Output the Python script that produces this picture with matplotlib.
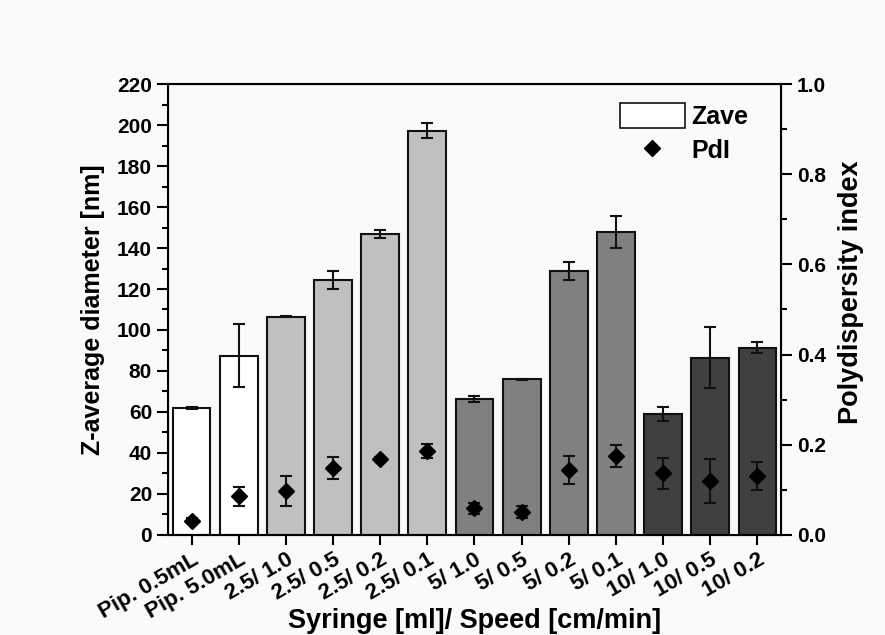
import matplotlib.pyplot as plt
import numpy as np
from matplotlib.patches import Patch
from matplotlib.lines import Line2D
from matplotlib.ticker import MultipleLocator

plt.rcParams['font.family'] = ['Liberation Sans', 'DejaVu Sans']
plt.rcParams['font.weight'] = 'bold'

# données
labels = ['Pip. 0.5mL', 'Pip. 5.0mL', '2.5/ 1.0', '2.5/ 0.5', '2.5/ 0.2', '2.5/ 0.1',
          '5/ 1.0', '5/ 0.5', '5/ 0.2', '5/ 0.1', '10/ 1.0', '10/ 0.5', '10/ 0.2']
zave = [61.8, 87.5, 106.5, 124.4, 146.8, 197.2, 66.3, 75.9, 128.7, 147.8, 59.0, 86.5, 91.4]
zave_err = [0.4, 15.4, 0.4, 4.5, 2.0, 3.6, 1.4, 0.4, 4.5, 8.0, 3.2, 15.0, 2.6]
pdi = [0.032, 0.086, 0.097, 0.149, 0.169, 0.186, 0.059, 0.051, 0.145, 0.175, 0.137, 0.120, 0.131]
pdi_err = [0.005, 0.021, 0.033, 0.024, 0.004, 0.016, 0.013, 0.013, 0.031, 0.025, 0.034, 0.048, 0.031]
group_colors = ['white'] * 2 + ['#c0c0c0'] * 4 + ['#808080'] * 4 + ['#404040'] * 3

fig = plt.figure(figsize=(8.85, 6.35), dpi=100, facecolor='#fafafa')
ax = fig.add_axes([0.1898, 0.1575, 0.6927, 0.7102])
ax.set_facecolor('#fafafa')
x = np.arange(1, len(labels) + 1)

ax.bar(x, zave, width=0.8, color=group_colors, edgecolor='#111111', linewidth=1.5,
       yerr=zave_err, error_kw=dict(ecolor='#111111', elinewidth=1.5, capsize=4, capthick=1.5),
       zorder=2)
ax.set_xlim(0.5, len(labels) + 0.5)
ax.set_ylim(0, 220)
ax.yaxis.set_major_locator(MultipleLocator(20))
ax.yaxis.set_minor_locator(MultipleLocator(10))
ax.set_xticks(x)
ax.set_xticklabels(labels, rotation=30, ha='right', rotation_mode='anchor',
                   fontsize=16, fontweight='bold')
ax.tick_params(axis='y', which='major', direction='out', length=8, width=1.5, labelsize=15)
ax.tick_params(axis='y', which='minor', direction='out', length=4.5, width=1.5)
ax.tick_params(axis='x', direction='out', length=7, width=1.5, pad=3)
for t in ax.get_yticklabels():
    t.set_fontweight('bold')
for s in ax.spines.values():
    s.set_linewidth(1.5)
ax.set_ylabel('Z-average diameter [nm]', fontsize=18, fontweight='bold', labelpad=9)
ax.set_xlabel('Syringe [ml]/ Speed [cm/min]', fontsize=19.5, fontweight='bold')
ax.xaxis.set_label_coords(0.5, -0.163)

ax2 = ax.twinx()
ax2.errorbar(x, pdi, yerr=pdi_err, fmt='D', color='black', markersize=8,
             ecolor='#111111', elinewidth=1.5, capsize=4, capthick=1.5, zorder=3)
ax2.set_ylim(0, 1.0)
ax2.yaxis.set_major_locator(MultipleLocator(0.2))
ax2.yaxis.set_minor_locator(MultipleLocator(0.1))
ax2.yaxis.set_major_formatter(plt.FuncFormatter(lambda v, p: f'{v:.1f}'))
ax2.tick_params(axis='y', which='major', direction='out', length=8, width=1.5, labelsize=15)
ax2.tick_params(axis='y', which='minor', direction='out', length=4.5, width=1.5)
for t in ax2.get_yticklabels():
    t.set_fontweight('bold')
ax2.set_ylabel('Polydispersity index', fontsize=19.5, fontweight='bold')
ax2.yaxis.set_label_coords(1.093, 0.539)

handles = [Patch(facecolor='white', edgecolor='#111111', linewidth=1.2),
           Line2D([], [], marker='D', color='black', linestyle='none', markersize=8)]
ax2.legend(handles, ['Zave', 'PdI'], loc='upper left', frameon=False,
           prop=dict(size=18, weight='bold'),
           handlelength=2.6, handleheight=1.15, handletextpad=0.25,
           borderpad=0, borderaxespad=0, labelspacing=0.35,
           bbox_to_anchor=(0.737, 0.958))

fig.savefig('out.png', dpi=100, facecolor=fig.get_facecolor())
